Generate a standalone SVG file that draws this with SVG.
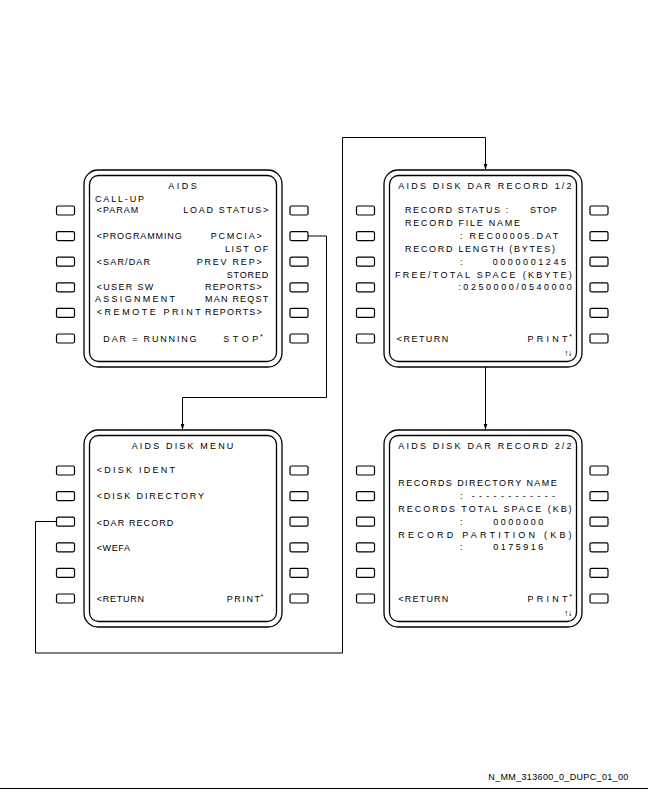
<svg xmlns="http://www.w3.org/2000/svg" xmlns:xlink="http://www.w3.org/1999/xlink" width="648" height="792" viewBox="0 0 648 792">
  <style>
    .frame { fill: none; stroke: #000; stroke-width: 1.3; }
    .key { fill: #fff; stroke: #000; stroke-width: 1.2; }
    .wire { fill: none; stroke: #000; stroke-width: 1; }
    text { font-family: "Liberation Sans", Arial, sans-serif; font-size: 9px; fill: #000; }
    .sup { font-size: 7px; }
    .scroll { font-family: "DejaVu Sans", sans-serif; font-size: 7px; }
  </style>
  <defs>
    <!-- MCDU unit: bezel, screen and the twelve line select keys -->
    <g id="mcdu">
      <rect class="frame" x="0" y="0" width="198" height="197" rx="14"/>
      <rect class="frame" x="5.5" y="5.5" width="187" height="186" rx="9"/>
      <g class="key">
        <rect x="-27.5" y="36" width="18" height="9" rx="1.5"/>
        <rect x="-27.5" y="61.6" width="18" height="9" rx="1.5"/>
        <rect x="-27.5" y="87.2" width="18" height="9" rx="1.5"/>
        <rect x="-27.5" y="112.8" width="18" height="9" rx="1.5"/>
        <rect x="-27.5" y="138.4" width="18" height="9" rx="1.5"/>
        <rect x="-27.5" y="164" width="18" height="9" rx="1.5"/>
        <rect x="206" y="36" width="18" height="9" rx="1.5"/>
        <rect x="206" y="61.6" width="18" height="9" rx="1.5"/>
        <rect x="206" y="87.2" width="18" height="9" rx="1.5"/>
        <rect x="206" y="112.8" width="18" height="9" rx="1.5"/>
        <rect x="206" y="138.4" width="18" height="9" rx="1.5"/>
        <rect x="206" y="164" width="18" height="9" rx="1.5"/>
      </g>
    </g>
    <marker id="arrow" markerUnits="userSpaceOnUse" markerWidth="6" markerHeight="10" refX="9" refY="2.7" orient="auto" viewBox="0 0 9 5.4" overflow="visible">
      <path d="M0,0 L9,2.7 L0,5.4 Z" fill="#000"/>
    </marker>
  </defs>

  <!-- AIDS call-up page -->
  <g id="aids-callup">
    <use xlink:href="#mcdu" x="84" y="170"/>
    <text x="168.3" y="189" textLength="28.5" lengthAdjust="spacing">AIDS</text>
    <text x="95" y="201.7" textLength="49" lengthAdjust="spacing">CALL-UP</text>
    <text x="96.7" y="213.3" textLength="41.6" lengthAdjust="spacing">&lt;PARAM</text>
    <text x="183.3" y="213.3" textLength="85" lengthAdjust="spacing">LOAD STATUS&gt;</text>
    <text x="96.7" y="239" textLength="85" lengthAdjust="spacing">&lt;PROGRAMMING</text>
    <text x="210.7" y="239" textLength="51" lengthAdjust="spacing">PCMCIA&gt;</text>
    <text x="225" y="252.3" textLength="43.3" lengthAdjust="spacing">LIST OF</text>
    <text x="96.7" y="265" textLength="53.3" lengthAdjust="spacing">&lt;SAR/DAR</text>
    <text x="196.7" y="265" textLength="65" lengthAdjust="spacing">PREV REP&gt;</text>
    <text x="226.7" y="277.7" textLength="41.6" lengthAdjust="spacing">STORED</text>
    <text x="96.7" y="290" textLength="56.6" lengthAdjust="spacing">&lt;USER SW</text>
    <text x="205" y="290" textLength="56.7" lengthAdjust="spacing">REPORTS&gt;</text>
    <text x="95" y="302.3" textLength="80" lengthAdjust="spacing">ASSIGNMENT</text>
    <text x="205" y="302.3" textLength="63.3" lengthAdjust="spacing">MAN REQST</text>
    <text x="96.7" y="315" textLength="104" lengthAdjust="spacing">&lt;REMOTE PRINT</text>
    <text x="205" y="315" textLength="56.7" lengthAdjust="spacing">REPORTS&gt;</text>
    <text x="103.3" y="341.7" textLength="93.3" lengthAdjust="spacing">DAR = RUNNING</text>
    <text x="223.3" y="341.7" textLength="35" lengthAdjust="spacing">STOP</text>
    <text class="sup" x="260" y="339">*</text>
  </g>

  <!-- AIDS disk DAR record, page 1 -->
  <g id="dar-record-1">
    <use xlink:href="#mcdu" x="384" y="170"/>
    <text x="398.3" y="189" textLength="173.3" lengthAdjust="spacing">AIDS DISK DAR RECORD 1/2</text>
    <text x="405" y="213.3" textLength="103.3" lengthAdjust="spacing">RECORD STATUS :</text>
    <text x="530" y="213.3" textLength="26.7" lengthAdjust="spacing">STOP</text>
    <text x="405" y="226" textLength="115" lengthAdjust="spacing">RECORD FILE NAME</text>
    <text x="460" y="239" textLength="98.3" lengthAdjust="spacing">: REC00005.DAT</text>
    <text x="405" y="252.3" textLength="150" lengthAdjust="spacing">RECORD LENGTH (BYTES)</text>
    <text x="460" y="265">:</text>
    <text x="492.7" y="265" textLength="73.3" lengthAdjust="spacing">0000001245</text>
    <text x="395" y="277.7" textLength="176.7" lengthAdjust="spacing">FREE/TOTAL SPACE (KBYTE)</text>
    <text x="458.3" y="290" textLength="113.4" lengthAdjust="spacing">:0250000/0540000</text>
    <text x="396.7" y="341.7" textLength="51.6" lengthAdjust="spacing">&lt;RETURN</text>
    <text x="527.5" y="341.7" textLength="40" lengthAdjust="spacing">PRINT</text>
    <text class="sup" x="569.3" y="339">*</text>
    <text class="scroll" x="564.5" y="355.5" textLength="7.5" lengthAdjust="spacingAndGlyphs">↑↓</text>
  </g>

  <!-- AIDS disk menu -->
  <g id="disk-menu">
    <use xlink:href="#mcdu" x="84" y="430"/>
    <text x="131.7" y="449" textLength="101.6" lengthAdjust="spacing">AIDS DISK MENU</text>
    <text x="96.7" y="473.3" textLength="78.3" lengthAdjust="spacing">&lt;DISK IDENT</text>
    <text x="96.7" y="499" textLength="107.3" lengthAdjust="spacing">&lt;DISK DIRECTORY</text>
    <text x="96.7" y="525.7" textLength="76.6" lengthAdjust="spacing">&lt;DAR RECORD</text>
    <text x="96.7" y="550.7" textLength="33.3" lengthAdjust="spacing">&lt;WEFA</text>
    <text x="96.7" y="601.7" textLength="47.3" lengthAdjust="spacing">&lt;RETURN</text>
    <text x="226.7" y="601.7" textLength="33.3" lengthAdjust="spacing">PRINT</text>
    <text class="sup" x="260.5" y="599">*</text>
  </g>

  <!-- AIDS disk DAR record, page 2 -->
  <g id="dar-record-2">
    <use xlink:href="#mcdu" x="384" y="430"/>
    <text x="398.3" y="449" textLength="173.3" lengthAdjust="spacing">AIDS DISK DAR RECORD 2/2</text>
    <text x="398.3" y="486" textLength="158.4" lengthAdjust="spacing">RECORDS DIRECTORY NAME</text>
    <text x="460" y="499">:</text>
    <text x="471.7" y="499" textLength="83.3" lengthAdjust="spacing">------------</text>
    <text x="398.3" y="512.3" textLength="173.3" lengthAdjust="spacing">RECORDS TOTAL SPACE (KB)</text>
    <text x="460" y="525">:</text>
    <text x="493.3" y="525" textLength="50" lengthAdjust="spacing">0000000</text>
    <text x="398.3" y="537.7" textLength="173.3" lengthAdjust="spacing">RECORD PARTITION (KB)</text>
    <text x="460" y="550">:</text>
    <text x="493.3" y="550" textLength="50" lengthAdjust="spacing">0175916</text>
    <text x="398.3" y="601.7" textLength="50" lengthAdjust="spacing">&lt;RETURN</text>
    <text x="527.5" y="601.7" textLength="40" lengthAdjust="spacing">PRINT</text>
    <text class="sup" x="569.3" y="599">*</text>
    <text class="scroll" x="564.5" y="615.5" textLength="7.5" lengthAdjust="spacingAndGlyphs">↑↓</text>
  </g>

  <!-- page navigation links -->
  <g id="connectors">
    <path class="wire" d="M308,236 H326.5 V397.5 H182.5 V430" marker-end="url(#arrow)"/>
    <path class="wire" d="M56.5,521.5 H35.5 V653 H342.5 V137.5 H485.5 V170" marker-end="url(#arrow)"/>
    <path class="wire" d="M485.5,367 V430" marker-end="url(#arrow)"/>
  </g>

  <!-- sheet reference -->
  <g id="footer">
    <text x="488.3" y="779.5" textLength="140" lengthAdjust="spacing">N_MM_313600_0_DUPC_01_00</text>
    <line x1="0" y1="788.5" x2="648" y2="788.5" stroke="#000" stroke-width="1.2"/>
  </g>
</svg>
